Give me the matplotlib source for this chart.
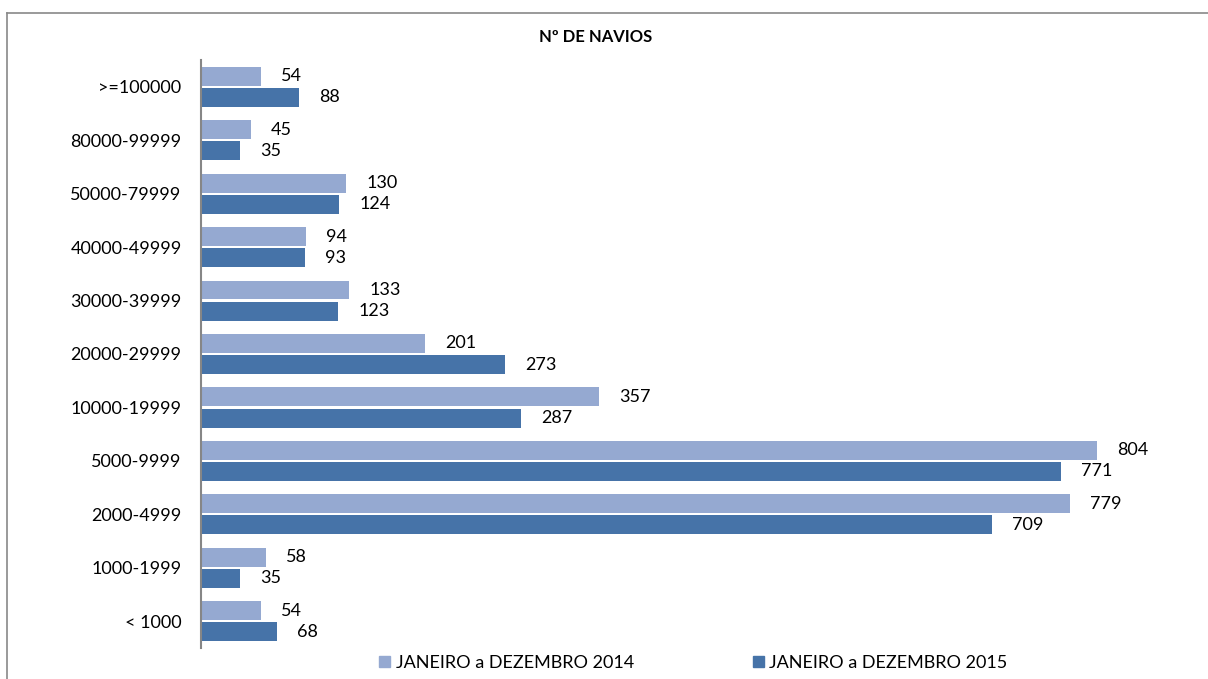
import numpy as np
import matplotlib.pyplot as plt
from matplotlib.lines import Line2D
from matplotlib.patches import Patch

plt.rcParams['font.family'] = ['Lato', 'DejaVu Sans']

categories = ['>=100000', '80000-99999', '50000-79999', '40000-49999', '30000-39999',
              '20000-29999', '10000-19999', '5000-9999', '2000-4999', '1000-1999', '< 1000']
val_2014 = [54, 45, 130, 94, 133, 201, 357, 804, 779, 58, 54]
val_2015 = [88, 35, 124, 93, 123, 273, 287, 771, 709, 35, 68]
labels = ['JANEIRO a DEZEMBRO 2014', 'JANEIRO a DEZEMBRO 2015']

c14 = '#95A9D1'
c15 = '#4673A8'

fig = plt.figure(figsize=(12.08, 6.79), dpi=100)
ax = fig.add_axes([201/1208, 1-648/679, (1180-201)/1208, (648-60)/679])

y = np.arange(len(categories))
h = 0.355
ax.barh(y - h/2 - 0.02, val_2014, height=h, color=c14)
ax.barh(y + h/2 + 0.02, val_2015, height=h, color=c15)

for i in range(len(categories)):
    ax.text(val_2014[i] + 18, y[i] - h/2 - 0.02, str(val_2014[i]), va='center', ha='left', fontsize=13)
    ax.text(val_2015[i] + 18, y[i] + h/2 + 0.02, str(val_2015[i]), va='center', ha='left', fontsize=13)

ax.set_ylim(len(categories) - 0.5, -0.5)
ax.set_xlim(0, 878)
ax.set_yticks(y)
ax.set_yticklabels(categories, fontsize=13)
ax.tick_params(axis='y', length=0, pad=14)
ax.set_xticks([])
for s in ['top', 'right', 'bottom']:
    ax.spines[s].set_visible(False)
ax.spines['left'].set_color('#868686')
ax.spines['left'].set_linewidth(1.5)

fig.text(596/1208, 1-37/679, 'Nº DE NAVIOS', ha='center', va='center', fontsize=12, fontweight='bold')

# outer chart frame (cropped)
fig.add_artist(Line2D([7/1208, 7/1208], [0, 1-13/679], color='#898989', lw=1.2, transform=fig.transFigure))
fig.add_artist(Line2D([7/1208, 1], [1-13/679, 1-13/679], color='#898989', lw=1.2, transform=fig.transFigure))

handles = [Patch(color=c14), Patch(color=c15)]
fig.legend(handles, labels, loc='center', bbox_to_anchor=(0.574, 1-663/679), ncol=2, frameon=False,
           fontsize=13, handlelength=0.6, handleheight=0.6, handletextpad=0.3, columnspacing=6.6)

fig.savefig('out.png', dpi=100)
